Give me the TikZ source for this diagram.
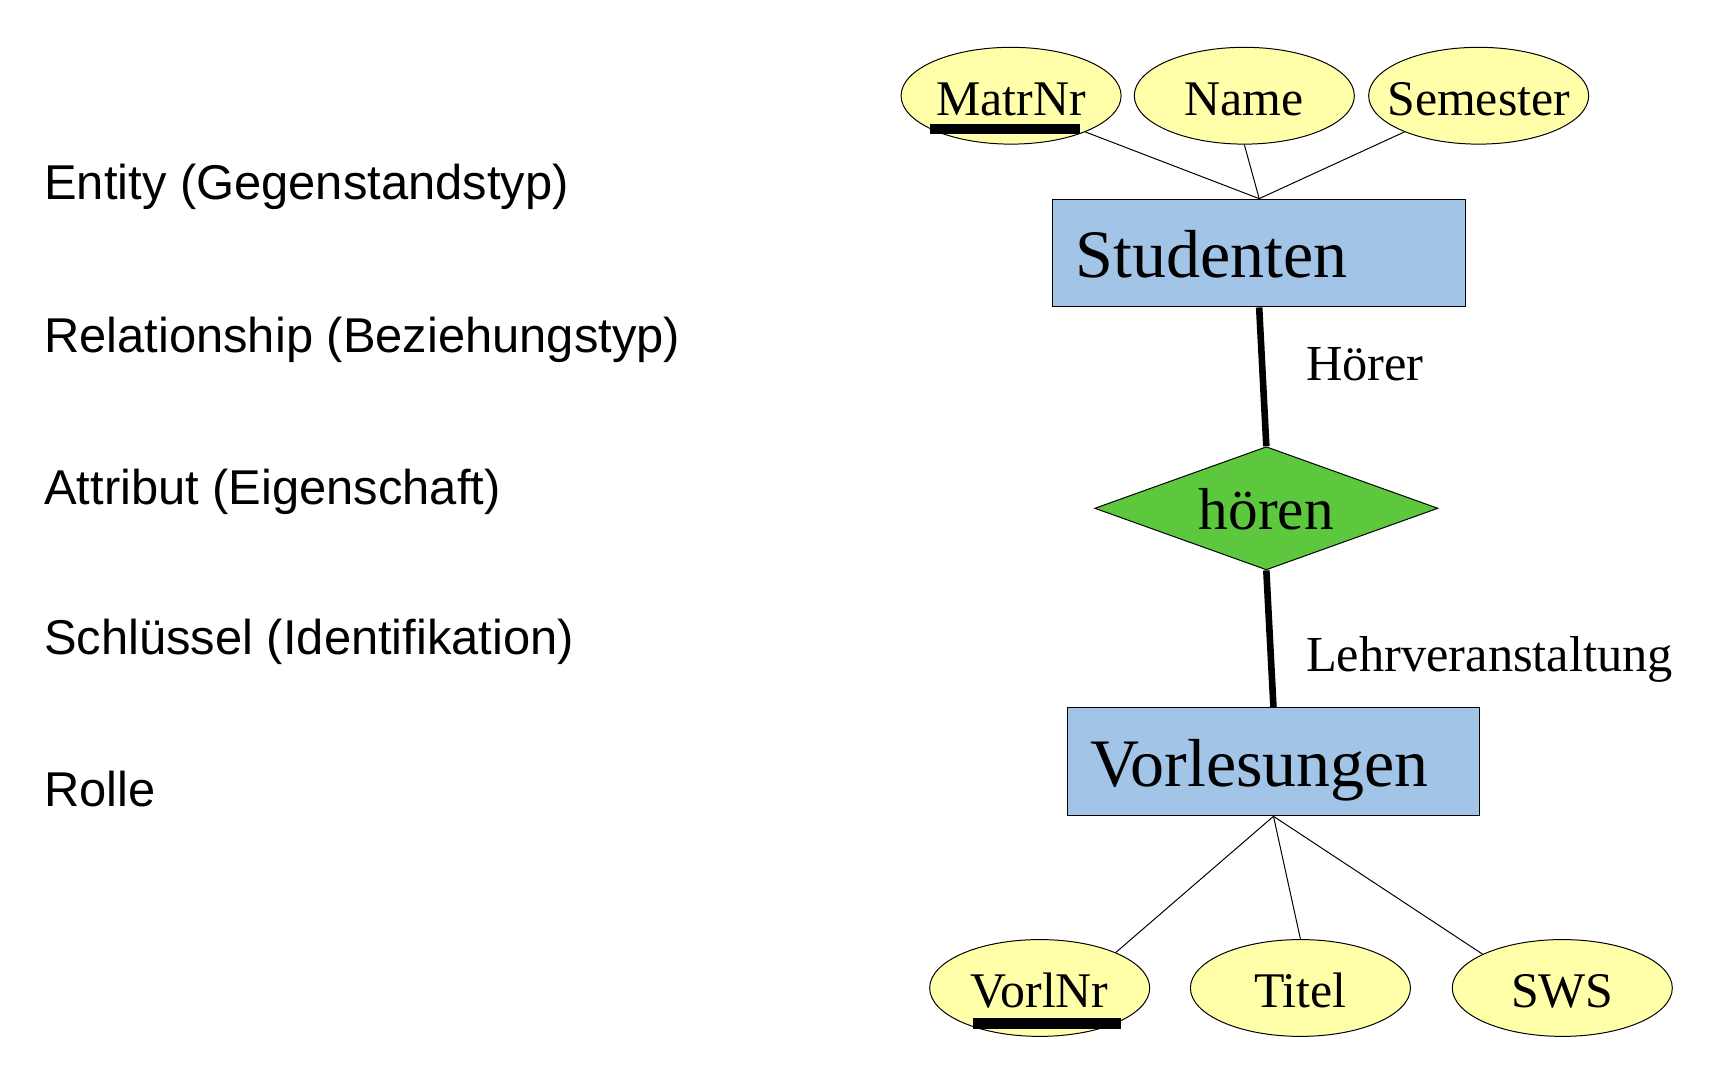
\documentclass[tikz,border=0pt]{standalone}
\usepackage{fontspec}
\setmainfont{Liberation Serif}
\newfontfamily\labelfont{Liberation Sans}
\usetikzlibrary{shapes.geometric}
\definecolor{attrfill}{RGB}{255,255,170}
\definecolor{entfill}{RGB}{162,196,230}
\definecolor{relfill}{RGB}{93,200,61}
\newcommand{\attrtext}[1]{\makebox[0pt]{#1}}
\begin{document}
\begin{tikzpicture}[x=1bp,y=-1bp,
  attr/.style={ellipse, draw, line width=0.9bp, fill=attrfill, minimum width=200bp, minimum height=88bp, inner sep=0pt, text height=36bp, text depth=0bp, font=\fontsize{45.5}{54}\selectfont},
  entity/.style={rectangle, draw, line width=0.9bp, fill=entfill, minimum width=375bp, minimum height=98bp, text width=333bp, inner xsep=21bp, inner ysep=0pt, text height=45bp, text depth=0bp, align=left, font=\fontsize{62}{74}\selectfont},
  rel/.style={diamond, draw, line width=0.9bp, fill=relfill, minimum width=312bp, minimum height=112bp, inner sep=0pt, aspect=2.786, text height=39bp, text depth=0bp, font=\fontsize{54}{64}\selectfont},
  legend/.style={anchor=base west, inner sep=0pt, font=\labelfont\fontsize{44.6}{53}\selectfont},
  role/.style={anchor=base west, inner sep=0pt, font=\fontsize{46}{55}\selectfont},
  attrline/.style={line width=0.9bp},
  roleline/.style={line width=6bp},
  keybar/.style={fill=black}]
\useasboundingbox (0,0) rectangle (1567,987);
% legend
\node[legend] (l1) at (40,181) {Entity (Gegenstandstyp)};
\node[legend] (l2) at (40,320) {Relationship (Beziehungstyp)};
\node[legend] (l3) at (40,459) {Attribut (Eigenschaft)};
\node[legend] (l4) at (40,595) {Schlüssel (Identifikation)};
\node[legend] (l5) at (40,733) {Rolle};
% attributes top
\node[attr] (matr) at (919,87) {\attrtext{MatrNr}};
\node[attr] (name) at (1131,87) {\attrtext{Name}};
\node[attr] (sem) at (1344,87) {\attrtext{Semester}};
% entities
\node[entity] (stud) at (1144.5,230) {Studenten};
\node[entity] (vorl) at (1157.5,692.5) {Vorlesungen};
% relationship
\node[rel] (hoeren) at (1151,462) {hören};
% attributes bottom
\node[attr] (vorlnr) at (945,898) {\attrtext{VorlNr}};
\node[attr] (titel) at (1182,898) {\attrtext{Titel}};
\node[attr] (sws) at (1420,898) {\attrtext{SWS}};
% connectors
\draw[attrline] (stud.north) -- (matr.-26);
\draw[attrline] (stud.north) -- (name.south);
\draw[attrline] (stud.north) -- (sem.206);
\draw[attrline] (vorl.south) -- (vorlnr.25);
\draw[attrline] (vorl.south) -- (titel.north);
\draw[attrline] (vorl.south) -- (sws.157);
\draw[roleline] (stud.south) -- (hoeren.north);
\draw[roleline] (hoeren.south) -- (vorl.north);
% role labels
\node[role] (r1) at (1187,346) {Hörer};
\node[role] (r2) at (1187,610) {Lehrveranstaltung};
% key underlines
\fill[keybar] ([shift={(-74,26)}]matr.center) rectangle ++(137,9);
\fill[keybar] ([shift={(-61,27)}]vorlnr.center) rectangle ++(135,10);
\end{tikzpicture}
\end{document}
